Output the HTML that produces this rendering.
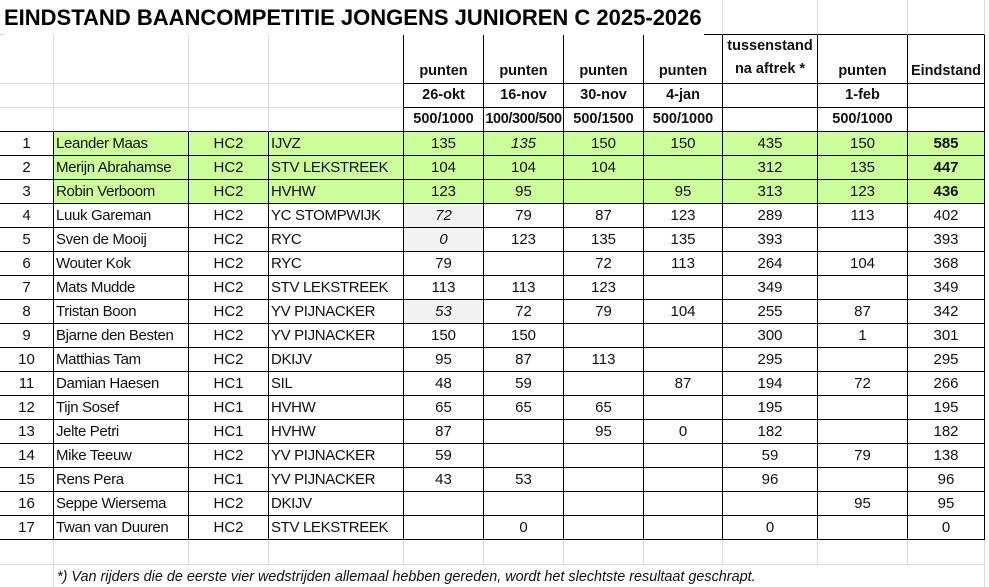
<!DOCTYPE html>
<html><head><meta charset="utf-8"><style>
html,body{margin:0;padding:0;background:#fff;width:989px;height:587px;overflow:hidden;position:relative}
table{border-collapse:separate;border-spacing:0;table-layout:fixed;width:985px;font-family:"Liberation Sans",Arial,sans-serif;font-size:15px;color:#111;position:absolute;left:0;top:0}
td{padding:0 2px;border-right:1px solid #d9d9d9;border-bottom:1px solid #d9d9d9;white-space:nowrap;overflow:visible;height:23px;line-height:23px;box-sizing:border-box;vertical-align:middle}
.title td{height:35px}
.h td{font-weight:bold;font-size:14.5px;text-align:center}
.h1 td{height:46px;vertical-align:bottom;line-height:16px;padding-bottom:4px}
.h2 td,.h3 td{height:24px;line-height:23px}
td.dr{border-right:1px solid #000}
td.db{border-bottom:1px solid #000}
.d td{border-right:1px solid #000;border-bottom:1px solid #000;height:24px;line-height:23px}
.d td:first-child{text-align:center}
.d td:nth-child(2),.d td:nth-child(4){letter-spacing:-0.35px}
.d td:nth-child(3){text-align:center}
.d td:nth-child(n+5){text-align:center}
.g td:not(:first-child){background:#ccff99}
.g td:last-child{font-weight:bold}
td.gr{background:#f2f2f2;font-style:italic}
.f td{height:25px;line-height:25px}
#t{position:absolute;left:4px;top:0;height:35px;line-height:36px;font-family:"Liberation Sans",Arial,sans-serif;font-weight:bold;font-size:22px;color:#000;z-index:2;background:#fff;padding-right:2px}
</style></head><body>
<div id="t">EINDSTAND BAANCOMPETITIE JONGENS JUNIOREN C 2025-2026</div>
<table>
<colgroup><col style="width:54px"><col style="width:135px"><col style="width:80px"><col style="width:135px"><col style="width:80px"><col style="width:80px"><col style="width:80px"><col style="width:79px"><col style="width:95px"><col style="width:90px"><col style="width:77px"></colgroup>
<tr class="title"><td></td><td></td><td></td><td></td><td class="db"></td><td class="db"></td><td class="db"></td><td class="db"></td><td class="db"></td><td class="db"></td><td class="db"></td></tr>
<tr class="h h1"><td></td><td></td><td></td><td class="dr"></td><td class="dr db">punten</td><td class="dr db">punten</td><td class="dr db">punten</td><td class="dr db">punten</td><td class="dr db" style="line-height:23px;padding-bottom:2px">tussenstand<br>na aftrek *</td><td class="dr db">punten</td><td class="dr db">Eindstand</td></tr>
<tr class="h h2"><td></td><td></td><td></td><td class="dr"></td><td class="dr db">26-okt</td><td class="dr db">16-nov</td><td class="dr db">30-nov</td><td class="dr db">4-jan</td><td class="dr db"></td><td class="dr db">1-feb</td><td class="dr db"></td></tr>
<tr class="h h3"><td class="db"></td><td class="db"></td><td class="db"></td><td class="dr db"></td><td class="dr db">500/1000</td><td class="dr db" style="padding:0;letter-spacing:-0.4px">100/300/500</td><td class="dr db">500/1500</td><td class="dr db">500/1000</td><td class="dr db"></td><td class="dr db">500/1000</td><td class="dr db"></td></tr>
<tr class="d g"><td>1</td><td>Leander Maas</td><td>HC2</td><td>IJVZ</td><td>135</td><td><i>135</i></td><td>150</td><td>150</td><td>435</td><td>150</td><td>585</td></tr>
<tr class="d g"><td>2</td><td>Merijn Abrahamse</td><td>HC2</td><td>STV LEKSTREEK</td><td>104</td><td>104</td><td>104</td><td></td><td>312</td><td>135</td><td>447</td></tr>
<tr class="d g"><td>3</td><td>Robin Verboom</td><td>HC2</td><td>HVHW</td><td>123</td><td>95</td><td></td><td>95</td><td>313</td><td>123</td><td>436</td></tr>
<tr class="d"><td>4</td><td>Luuk Gareman</td><td>HC2</td><td>YC STOMPWIJK</td><td class="gr">72</td><td>79</td><td>87</td><td>123</td><td>289</td><td>113</td><td>402</td></tr>
<tr class="d"><td>5</td><td>Sven de Mooij</td><td>HC2</td><td>RYC</td><td class="gr">0</td><td>123</td><td>135</td><td>135</td><td>393</td><td></td><td>393</td></tr>
<tr class="d"><td>6</td><td>Wouter Kok</td><td>HC2</td><td>RYC</td><td>79</td><td></td><td>72</td><td>113</td><td>264</td><td>104</td><td>368</td></tr>
<tr class="d"><td>7</td><td>Mats Mudde</td><td>HC2</td><td>STV LEKSTREEK</td><td>113</td><td>113</td><td>123</td><td></td><td>349</td><td></td><td>349</td></tr>
<tr class="d"><td>8</td><td>Tristan Boon</td><td>HC2</td><td>YV PIJNACKER</td><td class="gr">53</td><td>72</td><td>79</td><td>104</td><td>255</td><td>87</td><td>342</td></tr>
<tr class="d"><td>9</td><td>Bjarne den Besten</td><td>HC2</td><td>YV PIJNACKER</td><td>150</td><td>150</td><td></td><td></td><td>300</td><td>1</td><td>301</td></tr>
<tr class="d"><td>10</td><td>Matthias Tam</td><td>HC2</td><td>DKIJV</td><td>95</td><td>87</td><td>113</td><td></td><td>295</td><td></td><td>295</td></tr>
<tr class="d"><td>11</td><td>Damian Haesen</td><td>HC1</td><td>SIL</td><td>48</td><td>59</td><td></td><td>87</td><td>194</td><td>72</td><td>266</td></tr>
<tr class="d"><td>12</td><td>Tijn Sosef</td><td>HC1</td><td>HVHW</td><td>65</td><td>65</td><td>65</td><td></td><td>195</td><td></td><td>195</td></tr>
<tr class="d"><td>13</td><td>Jelte Petri</td><td>HC1</td><td>HVHW</td><td>87</td><td></td><td>95</td><td>0</td><td>182</td><td></td><td>182</td></tr>
<tr class="d"><td>14</td><td>Mike Teeuw</td><td>HC2</td><td>YV PIJNACKER</td><td>59</td><td></td><td></td><td></td><td>59</td><td>79</td><td>138</td></tr>
<tr class="d"><td>15</td><td>Rens Pera</td><td>HC1</td><td>YV PIJNACKER</td><td>43</td><td>53</td><td></td><td></td><td>96</td><td></td><td>96</td></tr>
<tr class="d"><td>16</td><td>Seppe Wiersema</td><td>HC2</td><td>DKIJV</td><td></td><td></td><td></td><td></td><td></td><td>95</td><td>95</td></tr>
<tr class="d"><td>17</td><td>Twan van Duuren</td><td>HC2</td><td>STV LEKSTREEK</td><td></td><td>0</td><td></td><td></td><td>0</td><td></td><td>0</td></tr>
<tr class="f"><td></td><td></td><td></td><td></td><td></td><td></td><td></td><td></td><td></td><td></td><td></td></tr>
<tr class="f"><td></td><td colspan="10" style="font-style:italic;font-size:14.4px;padding-left:3px">*) Van rijders die de eerste vier wedstrijden allemaal hebben gereden, wordt het slechtste resultaat geschrapt.</td></tr>
</table>
</body></html>
